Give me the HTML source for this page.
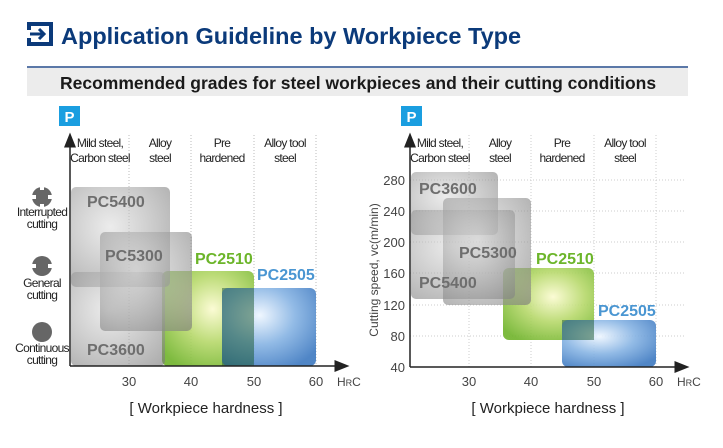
<!DOCTYPE html>
<html><head><meta charset="utf-8"><style>
html,body{margin:0;padding:0;background:#fff}
svg{display:block;font-family:"Liberation Sans",sans-serif}
.lbl{font-size:12px;fill:#222;text-anchor:middle;letter-spacing:-0.7px}
.tk{font-size:13px;fill:#444;text-anchor:middle}
.g{font-weight:bold;font-size:16px;fill:#6e6e6e}
</style></head><body>
<svg width="723" height="448" viewBox="0 0 723 448">
<defs>
<radialGradient id="gr" cx="0.4" cy="0.4" r="0.8">
<stop offset="0" stop-color="#dcdcdc" stop-opacity="0.55"/><stop offset="1" stop-color="#7a7a7a" stop-opacity="0.62"/></radialGradient>
<radialGradient id="gn" cx="0.55" cy="0.4" r="0.7">
<stop offset="0" stop-color="#fbfbd0"/><stop offset="0.5" stop-color="#b6d86a"/><stop offset="1" stop-color="#6fb32a"/></radialGradient>
<radialGradient id="bl" cx="0.4" cy="0.35" r="0.75">
<stop offset="0" stop-color="#eef6ff"/><stop offset="0.5" stop-color="#86b3e3"/><stop offset="1" stop-color="#3c78c0"/></radialGradient>
<marker id="ar" markerWidth="10" markerHeight="10" refX="5" refY="5" orient="auto"><path d="M0,1 L10,5 L0,9 z" fill="#222"/></marker>
</defs>
<!-- header -->
<rect x="27" y="22" width="26" height="24" fill="#0b3a7a"/>
<rect x="31" y="26" width="18" height="16" fill="#fff"/>
<rect x="27" y="30" width="6" height="8" fill="#fff"/>
<path d="M30 34 H44 M39 29 L44 34 L39 39" stroke="#0b3a7a" stroke-width="3" fill="none"/>
<text x="61" y="44" font-size="23.5" font-weight="bold" fill="#0b3a7a">Application Guideline by Workpiece Type</text>
<rect x="27" y="66" width="661" height="2" fill="#5b78a8"/>
<rect x="27" y="68" width="661" height="28" fill="#ececec"/>
<text x="60" y="89" font-size="17.5" font-weight="bold" fill="#1a1a1a">Recommended grades for steel workpieces and their cutting conditions</text>
<rect x="59" y="106" width="21" height="20" fill="#1a9ee0"/><text x="69.5" y="122" font-size="15" font-weight="bold" fill="#fff" text-anchor="middle">P</text>
<rect x="401" y="106" width="21" height="20" fill="#1a9ee0"/><text x="411.5" y="122" font-size="15" font-weight="bold" fill="#fff" text-anchor="middle">P</text>

<!-- LEFT CHART -->
<g stroke="#bbb" stroke-dasharray="1,2" stroke-width="1">
<line x1="129" y1="135" x2="129" y2="366"/><line x1="191" y1="135" x2="191" y2="366"/><line x1="254" y1="135" x2="254" y2="366"/><line x1="316" y1="135" x2="316" y2="366"/>
</g>
<text class="lbl"><tspan x="100" y="147">Mild steel,</tspan><tspan x="100" y="162">Carbon steel</tspan></text>
<text class="lbl"><tspan x="160" y="147">Alloy</tspan><tspan x="160" y="162">steel</tspan></text>
<text class="lbl"><tspan x="222" y="147">Pre</tspan><tspan x="222" y="162">hardened</tspan></text>
<text class="lbl"><tspan x="285" y="147">Alloy tool</tspan><tspan x="285" y="162">steel</tspan></text>
<rect x="162" y="271" width="92" height="95" rx="6" fill="url(#gn)" opacity="0.9"/>
<rect x="222" y="288" width="94" height="78" rx="6" fill="url(#bl)" opacity="0.9"/>
<rect x="222" y="288" width="32" height="78" fill="#1f5a3a" opacity="0.5"/>
<rect x="71" y="187" width="99" height="100" rx="5" fill="url(#gr)"/>
<rect x="71" y="272" width="94" height="94" rx="5" fill="url(#gr)"/>
<rect x="100" y="232" width="92" height="99" rx="5" fill="url(#gr)"/>
<text class="g" x="87" y="207">PC5400</text>
<text class="g" x="105" y="261">PC5300</text>
<text class="g" x="87" y="355">PC3600</text>
<text x="195" y="264" font-size="16" font-weight="bold" fill="#6cb52a">PC2510</text>
<text x="257" y="280" font-size="16" font-weight="bold" fill="#4a96d2">PC2505</text>
<line x1="70" y1="366" x2="70" y2="140" stroke="#222" stroke-width="1.5" marker-end="url(#ar)"/>
<line x1="70" y1="366" x2="342" y2="366" stroke="#222" stroke-width="1.5" marker-end="url(#ar)"/>
<text class="tk" x="129" y="386">30</text><text class="tk" x="191" y="386">40</text><text class="tk" x="254" y="386">50</text><text class="tk" x="316" y="386">60</text>
<text x="337" y="386" font-size="12" fill="#444">H<tspan font-size="9">R</tspan>C</text>
<g fill="#666">
<circle cx="42" cy="197" r="10"/>
<circle cx="42" cy="266" r="10"/>
<circle cx="42" cy="332" r="10"/>
</g>
<g fill="#fff"><rect x="32" y="195" width="4" height="4"/><rect x="48" y="195" width="4" height="4"/><rect x="40" y="186" width="4" height="4"/><rect x="40" y="204" width="4" height="4"/>
<rect x="31" y="264" width="5" height="4"/><rect x="48" y="264" width="5" height="4"/></g>
<text class="lbl" font-size="11"><tspan x="42" y="216">Interrupted</tspan><tspan x="42" y="228">cutting</tspan></text>
<text class="lbl"><tspan x="42" y="287">General</tspan><tspan x="42" y="299">cutting</tspan></text>
<text class="lbl"><tspan x="42" y="352">Continuous</tspan><tspan x="42" y="364">cutting</tspan></text>
<text x="206" y="413" font-size="15" fill="#222" text-anchor="middle">[ Workpiece hardness ]</text>

<!-- RIGHT CHART -->
<g stroke="#ccc" stroke-dasharray="1,2" stroke-width="1">
<line x1="469" y1="135" x2="469" y2="367"/><line x1="531" y1="135" x2="531" y2="367"/><line x1="594" y1="135" x2="594" y2="367"/><line x1="656" y1="135" x2="656" y2="367"/>
<line x1="410" y1="180" x2="685" y2="180"/><line x1="410" y1="211" x2="685" y2="211"/><line x1="410" y1="242" x2="685" y2="242"/><line x1="410" y1="273" x2="685" y2="273"/><line x1="410" y1="305" x2="685" y2="305"/><line x1="410" y1="336" x2="685" y2="336"/>
</g>
<text class="lbl"><tspan x="440" y="147">Mild steel,</tspan><tspan x="440" y="162">Carbon steel</tspan></text>
<text class="lbl"><tspan x="500" y="147">Alloy</tspan><tspan x="500" y="162">steel</tspan></text>
<text class="lbl"><tspan x="562" y="147">Pre</tspan><tspan x="562" y="162">hardened</tspan></text>
<text class="lbl"><tspan x="625" y="147">Alloy tool</tspan><tspan x="625" y="162">steel</tspan></text>
<rect x="503" y="268" width="91" height="72" rx="6" fill="url(#gn)" opacity="0.9"/>
<rect x="562" y="320" width="94" height="47" rx="6" fill="url(#bl)" opacity="0.9"/>
<rect x="562" y="320" width="32" height="20" fill="#1f5a3a" opacity="0.5"/>
<rect x="411" y="172" width="87" height="63" rx="5" fill="url(#gr)"/>
<rect x="411" y="210" width="104" height="89" rx="5" fill="url(#gr)"/>
<rect x="443" y="198" width="88" height="107" rx="5" fill="url(#gr)"/>
<text class="g" x="419" y="194">PC3600</text>
<text class="g" x="459" y="258">PC5300</text>
<text class="g" x="419" y="288">PC5400</text>
<text x="536" y="264" font-size="16" font-weight="bold" fill="#6cb52a">PC2510</text>
<text x="598" y="316" font-size="16" font-weight="bold" fill="#4a96d2">PC2505</text>
<line x1="410" y1="367" x2="410" y2="140" stroke="#222" stroke-width="1.5" marker-end="url(#ar)"/>
<line x1="410" y1="367" x2="682" y2="367" stroke="#222" stroke-width="1.5" marker-end="url(#ar)"/>
<g font-size="13" fill="#444" text-anchor="end"><text x="405" y="185">280</text><text x="405" y="216">240</text><text x="405" y="247">200</text><text x="405" y="278">160</text><text x="405" y="310">120</text><text x="405" y="341">80</text><text x="405" y="372">40</text></g>
<text class="tk" x="469" y="386">30</text><text class="tk" x="531" y="386">40</text><text class="tk" x="594" y="386">50</text><text class="tk" x="656" y="386">60</text>
<text x="677" y="386" font-size="12" fill="#444">H<tspan font-size="9">R</tspan>C</text>
<text transform="translate(378,270) rotate(-90)" font-size="12" fill="#444" text-anchor="middle">Cutting speed, vc(m/min)</text>
<text x="548" y="413" font-size="15" fill="#222" text-anchor="middle">[ Workpiece hardness ]</text>
</svg>
</body></html>
